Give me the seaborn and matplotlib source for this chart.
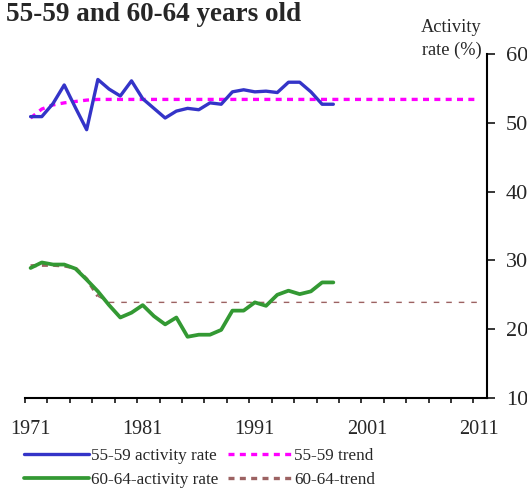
import seaborn as sns
import matplotlib.pyplot as plt
import numpy as np

# data
years = list(range(1971, 1999))
rate_5559 = [50.9, 50.9, 52.8, 55.5, 52.2, 49.0, 56.3, 54.9, 53.9, 56.1,
             53.5, 52.1, 50.7, 51.7, 52.1, 51.9, 52.9, 52.7, 54.5, 54.8,
             54.5, 54.6, 54.4, 55.9, 55.9, 54.5, 52.7, 52.7]
rate_6064 = [28.9, 29.7, 29.4, 29.4, 28.8, 27.2, 25.5, 23.5, 21.7, 22.4,
             23.5, 21.9, 20.7, 21.7, 18.9, 19.2, 19.2, 19.9, 22.7, 22.7,
             23.9, 23.4, 25.0, 25.6, 25.1, 25.5, 26.8, 26.8]

trend_years = list(range(1971, 2012))
trend_5559 = [50.7, 52.0, 52.6, 52.9, 53.1, 53.3, 53.4, 53.4, 53.4, 53.4,
              53.4, 53.4, 53.4, 53.4, 53.4, 53.4, 53.4, 53.4, 53.4, 53.4,
              53.4, 53.4, 53.4, 53.4, 53.4, 53.4, 53.4, 53.4, 53.4, 53.4,
              53.4, 53.4, 53.4, 53.4, 53.4, 53.4, 53.4, 53.4, 53.4, 53.4,
              53.4]
trend_6064 = [29.2, 29.3, 29.3, 29.2, 28.9, 27.3, 24.8, 23.9, 23.9, 23.9,
              23.9, 23.9, 23.9, 23.9, 23.9, 23.9, 23.9, 23.9, 23.9, 23.9,
              23.9, 23.9, 23.9, 23.9, 23.9, 23.9, 23.9, 23.9, 23.9, 23.9,
              23.9, 23.9, 23.9, 23.9, 23.9, 23.9, 23.9, 23.9, 23.9, 23.9,
              23.9]

label_years = [1971, 1981, 1991, 2001, 2011]
y_ticks = [10, 20, 30, 40, 50, 60]

sns.set_style("white")
plt.rcParams['font.family'] = ['Liberation Serif', 'DejaVu Serif']

fig = plt.figure(figsize=(5.27, 4.91), dpi=100)
ax = fig.add_axes([0.0474, 0.1894, 0.8766, 0.7006])

blue = '#3434c8'
green = '#339933'
magenta = '#ff00ff'
brown = '#9c6262'

sns.lineplot(x=years, y=rate_5559, ax=ax, color=blue, lw=2.4, zorder=3)
sns.lineplot(x=years, y=rate_6064, ax=ax, color=green, lw=2.7, zorder=3)
sns.lineplot(x=trend_years, y=trend_5559, ax=ax, color=magenta, lw=2.4,
             linestyle=(0, (1.8, 1.6)), zorder=2)
# brown trend: thick dots at the start, thin dashes afterwards
sns.lineplot(x=trend_years[:7], y=trend_6064[:7], ax=ax, color=brown, lw=2.4,
             linestyle=(0, (1.8, 1.6)), zorder=2)
sns.lineplot(x=trend_years[6:], y=trend_6064[6:], ax=ax, color=brown, lw=1.0,
             linestyle=(0, (4, 5)), zorder=2)

ax.set_xlim(1970.5, 2011.7)
ax.set_ylim(10, 60)

# y axis on the right
ax.yaxis.tick_right()
ax.set_yticks(y_ticks)
ax.tick_params(axis='y', direction='out', length=5.5, width=1.3, pad=8,
               labelsize=16, right=True, left=False)

# x axis: small ticks every two years between categories, labels every ten
ax.set_xticks(label_years)
ax.set_xticklabels([str(y) for y in label_years])
ax.set_xticks(np.arange(1970.5, 2011, 2), minor=True)
ax.tick_params(axis='x', which='major', length=0, pad=16, labelsize=14.5)
ax.tick_params(axis='x', which='minor', direction='out', length=3.5, width=1.3,
               bottom=True)

for side in ['left', 'top']:
    ax.spines[side].set_visible(False)
for side in ['right', 'bottom']:
    ax.spines[side].set_linewidth(1.5)
    ax.spines[side].set_color('black')

ax.set_xlabel('')
ax.set_ylabel('')

fig.text(0.012, 0.996, '55-59 and 60-64 years old', fontsize=19.5,
         fontweight='bold', ha='left', va='top')
fig.text(0.857, 0.962, 'Activity\nrate (%)', fontsize=13.2, ha='center',
         va='top', linespacing=1.45)

lines = ax.get_lines()
handles = [lines[0], lines[1], lines[2], lines[3]]
labels = ['55-59 activity rate', '60-64-activity rate',
          '55-59 trend', '60-64-trend']
fig.legend(handles, labels, ncol=2, loc='upper left',
           bbox_to_anchor=(0.046, 0.088), frameon=False, fontsize=12.3,
           handlelength=3.8, handletextpad=0.1, columnspacing=0.55,
           labelspacing=0.5, borderaxespad=0, borderpad=0)

plt.savefig('out.png', dpi=100)
